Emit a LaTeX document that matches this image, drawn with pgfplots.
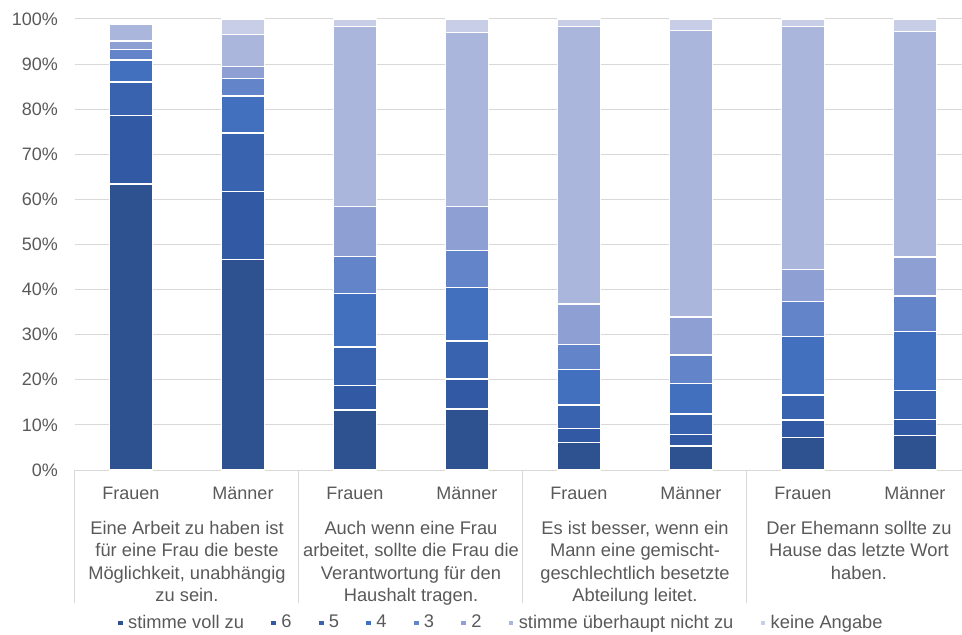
\documentclass[border=0pt]{standalone}
\usepackage{pgfplots}
\usepackage{pgfplotstable}
\pgfplotsset{compat=1.18}
\usepackage{fontspec}
\setmainfont{Liberation Sans}
\definecolor{cA}{HTML}{2E5190}
\definecolor{cB}{HTML}{3259A3}
\definecolor{cC}{HTML}{3963AF}
\definecolor{cD}{HTML}{4270BE}
\definecolor{cE}{HTML}{6384C8}
\definecolor{cF}{HTML}{8EA0D3}
\definecolor{cG}{HTML}{AAB6DC}
\definecolor{cH}{HTML}{C8CEE8}
\definecolor{txt}{HTML}{595959}
\definecolor{grd}{HTML}{D9D9D9}
\pgfplotstableread{
x voll s6 s5 s4 s3 s2 nicht keine
0 63.4 15.2 7.4 4.9 2.4 1.8 3.8 0
1 46.6 15.1 13.0 8.2 3.9 2.6 7.1 3.5
2 13.3 5.4 8.6 11.9 8.1 11.1 39.9 1.7
3 13.5 6.7 8.4 11.9 8.1 9.9 38.5 3.0
4 6.1 3.1 5.2 7.9 5.6 8.9 61.5 1.7
5 5.3 2.6 4.5 6.8 6.3 8.4 63.5 2.6
6 7.2 3.9 5.5 13.0 7.7 7.2 53.8 1.7
7 7.6 3.6 6.5 13.0 7.9 8.6 50.0 2.8
}\datatable
\tikzset{grp/.style={anchor=north, inner sep=0pt, align=center, text=txt,
        font=\fontsize{18.3}{22.5}\selectfont}}
\begin{document}
\fontsize{18.3}{21}\selectfont
\begin{tikzpicture}
\begin{axis}[
  scale only axis,
  width=887pt, height=451pt,
  xmin=-0.5, xmax=7.42,
  ymin=0, ymax=100,
  ybar stacked,
  bar width=43pt,
  xtick={0,...,7},
  xticklabels={Frauen,Männer,Frauen,Männer,Frauen,Männer,Frauen,Männer},
  ytick={0,10,...,100},
  yticklabels={0\%,10\%,20\%,30\%,40\%,50\%,60\%,70\%,80\%,90\%,100\%},
  major tick length=0pt,
  ymajorgrids,
  grid style={draw=grd, line width=1pt},
  axis x line*=bottom, axis y line*=left,
  x axis line style={draw=grd, line width=1pt, -},
  y axis line style={draw=none},
  tick label style={text=txt, font=\fontsize{18}{21}\selectfont},
  xticklabel style={anchor=base, inner sep=0pt, yshift=-29pt},
  yticklabel style={anchor=east, inner sep=0pt, xshift=-17pt},
  every axis plot/.append style={draw=white, line width=1.3pt},
  legend columns=8,
  legend style={at={(0.480,-0.339)}, anchor=center, draw=none, fill=none,
    font=\fontsize{18.3}{21}\selectfont, text=txt,
    /tikz/every even column/.append style={column sep=24pt},
    /tikz/every odd column/.append style={column sep=2pt}},
  legend image code/.code={\fill[#1] (0pt,-3pt) rectangle (6pt,3pt);},
  clip=false,
]
\addplot[fill=cA] table[x=x,y=voll]{\datatable};
\addplot[fill=cB] table[x=x,y=s6]{\datatable};
\addplot[fill=cC] table[x=x,y=s5]{\datatable};
\addplot[fill=cD] table[x=x,y=s4]{\datatable};
\addplot[fill=cE] table[x=x,y=s3]{\datatable};
\addplot[fill=cF] table[x=x,y=s2]{\datatable};
\addplot[fill=cG] table[x=x,y=nicht]{\datatable};
\addplot[fill=cH] table[x=x,y=keine]{\datatable};
\legend{stimme voll zu,6,5,4,3,2,stimme überhaupt nicht zu,keine Angabe}
\draw[grd, line width=1pt] (axis cs:-0.5,0) -- ([yshift=-133pt]axis cs:-0.5,0);
\draw[grd, line width=1pt] (axis cs:1.5,0) -- ([yshift=-133pt]axis cs:1.5,0);
\draw[grd, line width=1pt] (axis cs:3.5,0) -- ([yshift=-133pt]axis cs:3.5,0);
\draw[grd, line width=1pt] (axis cs:5.5,0) -- ([yshift=-133pt]axis cs:5.5,0);
\node[grp] at ([yshift=-51pt]axis cs:0.5,0) {Eine Arbeit zu haben ist\\für eine Frau die beste\\Möglichkeit, unabhängig\\zu sein.};
\node[grp] at ([yshift=-51pt]axis cs:2.5,0) {Auch wenn eine Frau\\arbeitet, sollte die Frau die\\Verantwortung für den\\Haushalt tragen.};
\node[grp] at ([yshift=-51pt]axis cs:4.5,0) {Es ist besser, wenn ein\\Mann eine gemischt-\\geschlechtlich besetzte\\Abteilung leitet.};
\node[grp] at ([yshift=-51pt]axis cs:6.5,0) {Der Ehemann sollte zu\\Hause das letzte Wort\\haben.};
\end{axis}
\pgfresetboundingbox
\useasboundingbox (-75pt,-165pt) rectangle (887pt,470pt);
\end{tikzpicture}
\end{document}
